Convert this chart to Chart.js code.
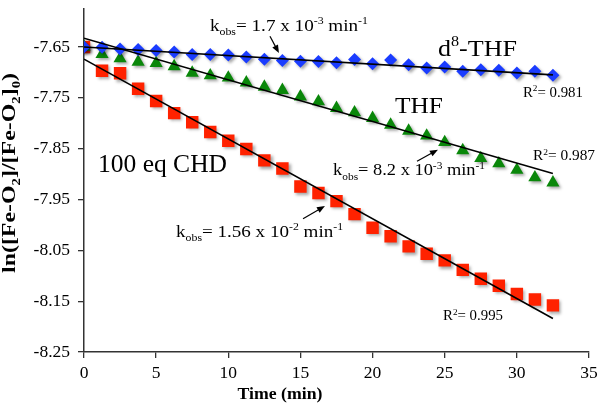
<!DOCTYPE html>
<html><head><meta charset="utf-8">
<script src="https://cdn.jsdelivr.net/npm/chart.js@4.4.1/dist/chart.umd.min.js"></script>
<style>html,body{margin:0;padding:0;background:#fff;}canvas{display:block;}</style>
</head><body>
<canvas id="c" width="600" height="404"></canvas>
<script>
// ---- data ----
const times = [0,1.25,2.5,3.75,5,6.25,7.5,8.75,10,11.25,12.5,13.75,15,16.25,17.5,18.75,20,21.25,22.5,23.75,25,26.25,27.5,28.75,30,31.25,32.5];
const d8thf = [-7.650,-7.6506,-7.654,-7.655,-7.657,-7.660,-7.665,-7.665,-7.666,-7.670,-7.674,-7.6765,-7.6781,-7.6787,-7.6813,-7.6748,-7.6833,-7.6756,-7.6852,-7.6915,-7.6896,-7.6979,-7.6948,-7.6960,-7.7012,-7.6979,-7.7056];
const thf = [-7.650,-7.6645,-7.6728,-7.6793,-7.6818,-7.6882,-7.7011,-7.7063,-7.7107,-7.7203,-7.7286,-7.7351,-7.7478,-7.7574,-7.7703,-7.7790,-7.7901,-7.8034,-7.8151,-7.8247,-7.8376,-7.8536,-7.8690,-7.8793,-7.8920,-7.9068,-7.9170];
const chd = [-7.650,-7.6967,-7.7019,-7.7321,-7.7563,-7.7802,-7.7981,-7.8173,-7.8346,-7.8506,-7.8731,-7.8890,-7.9244,-7.9371,-7.9533,-7.9788,-8.0058,-8.0225,-8.0423,-8.0567,-8.0698,-8.0885,-8.1058,-8.1198,-8.1360,-8.1467,-8.1583];
const fitTimes = [0, 32.5];
const fitD8 = [-7.650, -7.705];
const fitTHF = [-7.633, -7.899];
const fitCHD = [-7.674, -8.184];
const yTicks = [-8.25,-8.15,-8.05,-7.95,-7.85,-7.75,-7.65];
const xTicks = [0,5,10,15,20,25,30,35];

const SERIF = '"Liberation Serif", "Times New Roman", serif';
const pts = (xs, ys) => xs.map((t, i) => ({x: t, y: ys[i]}));

function drawRich(ctx, segs, x, y, fs, opts) {
  opts = opts || {};
  const w = opts.bold ? 'bold ' : '';
  const small = fs * 0.62;
  const fontFor = s => w + ((s.sub || s.sup) ? small : fs) + 'px ' + SERIF;
  let total = 0;
  const widths = segs.map(s => { ctx.font = fontFor(s); const m = ctx.measureText(s.t).width; total += m; return m; });
  const sc = opts.width ? opts.width / total : 1;
  ctx.save();
  ctx.translate(x, y);
  if (opts.rotate) ctx.rotate(opts.rotate);
  ctx.scale(sc, 1);
  ctx.fillStyle = '#000';
  ctx.textBaseline = 'alphabetic';
  ctx.textAlign = 'left';
  let cx = opts.center ? -total / 2 : 0;
  segs.forEach((s, i) => {
    ctx.font = fontFor(s);
    const dy = s.sub ? fs * 0.28 : (s.sup ? -fs * 0.38 : 0);
    ctx.fillText(s.t, cx, dy);
    cx += widths[i];
  });
  ctx.restore();
}

function drawArrow(ctx, x1, y1, x2, y2) {
  const a = Math.atan2(y2 - y1, x2 - x1);
  const L = 8, W = 3.2;
  ctx.save();
  ctx.strokeStyle = '#000'; ctx.fillStyle = '#000'; ctx.lineWidth = 1.2;
  ctx.beginPath(); ctx.moveTo(x1, y1);
  ctx.lineTo(x2 - Math.cos(a) * L * 0.8, y2 - Math.sin(a) * L * 0.8); ctx.stroke();
  ctx.beginPath();
  ctx.moveTo(x2, y2);
  ctx.lineTo(x2 - Math.cos(a) * L - Math.sin(a) * W, y2 - Math.sin(a) * L + Math.cos(a) * W);
  ctx.lineTo(x2 - Math.cos(a) * L + Math.sin(a) * W, y2 - Math.sin(a) * L - Math.cos(a) * W);
  ctx.closePath(); ctx.fill();
  ctx.restore();
}

const shadowPlugin = {
  id: 'shadow',
  beforeDatasetDraw(chart, args) {
    const ds = chart.data.datasets[args.index];
    if (ds.isMarker) {
      const ctx = chart.ctx;
      ctx.save();
      ctx.shadowColor = 'rgba(0,0,0,0.35)';
      ctx.shadowBlur = 3;
      ctx.shadowOffsetX = 2;
      ctx.shadowOffsetY = 2;
    }
  },
  afterDatasetDraw(chart, args) {
    const ds = chart.data.datasets[args.index];
    if (ds.isMarker) chart.ctx.restore();
  }
};

const annoPlugin = {
  id: 'anno',
  afterDraw(chart) {
    const ctx = chart.ctx;
    const X = v => chart.scales.x.getPixelForValue(v);
    const Y = v => chart.scales.y.getPixelForValue(v);
    // k_obs labels
    drawRich(ctx, [{t:'k'},{t:'obs',sub:true},{t:'= 1.7 x 10'},{t:'-3',sup:true},{t:' min'},{t:'-1',sup:true}], X(8.73), Y(-7.618), 17, {width:158});
    drawRich(ctx, [{t:'k'},{t:'obs',sub:true},{t:'= 8.2 x 10'},{t:'-3',sup:true},{t:' min'},{t:'-1',sup:true}], X(17.26), Y(-7.902), 17, {width:152});
    drawRich(ctx, [{t:'k'},{t:'obs',sub:true},{t:'= 1.56 x 10'},{t:'-2',sup:true},{t:' min'},{t:'-1',sup:true}], X(6.38), Y(-8.023), 16.5, {width:167});
    // series labels
    drawRich(ctx, [{t:'d'},{t:'8',sup:true},{t:'-THF'}], X(24.53), Y(-7.667), 24, {width:79});
    drawRich(ctx, [{t:'THF'}], X(21.55), Y(-7.779), 24, {width:48});
    drawRich(ctx, [{t:'100 eq CHD'}], X(0.97), Y(-7.896), 25, {width:129});
    // R^2 labels
    drawRich(ctx, [{t:'R'},{t:'2',sup:true},{t:'= 0.981'}], X(30.42), Y(-7.748), 14, {width:60});
    drawRich(ctx, [{t:'R'},{t:'2',sup:true},{t:'= 0.987'}], X(31.12), Y(-7.873), 14, {width:62});
    drawRich(ctx, [{t:'R'},{t:'2',sup:true},{t:'= 0.995'}], X(24.88), Y(-8.187), 14, {width:60});
    // arrows
    drawArrow(ctx, X(12.89), Y(-7.629), X(13.51), Y(-7.662));
    drawArrow(ctx, X(23.08), Y(-7.875), X(24.53), Y(-7.852));
    drawArrow(ctx, X(15.18), Y(-7.988), X(16.70), Y(-7.963));
    // axis titles
    drawRich(ctx, [{t:'Time (min)'}], 280, 399, 17.5, {bold:true, center:true, width:85});
    drawRich(ctx, [{t:'ln([Fe-O'},{t:'2',sub:true},{t:']/[Fe-O'},{t:'2',sub:true},{t:']'},{t:'0',sub:true},{t:')'}], 15, 173, 19.5, {bold:true, center:true, width:200, rotate:-Math.PI/2});
  }
};

const tickFont = {family: SERIF, size: 17.5};

new Chart(document.getElementById('c'), {
  type: 'scatter',
  data: {
    datasets: [
      {label:'d8 fit', type:'line', data: pts(fitTimes, fitD8), borderColor:'#000', borderWidth:1.6, pointRadius:0, order:0},
      {label:'THF fit', type:'line', data: pts(fitTimes, fitTHF), borderColor:'#000', borderWidth:1.6, pointRadius:0, order:0},
      {label:'CHD fit', type:'line', data: pts(fitTimes, fitCHD), borderColor:'#000', borderWidth:1.6, pointRadius:0, order:0},
      {label:'d8-THF', data: pts(times, d8thf), isMarker:true, pointStyle:'rectRot', pointRadius:6.5, backgroundColor:'#1a3cff', borderColor:'#1a3cff', borderWidth:0, order:1},
      {label:'THF', data: pts(times, thf), isMarker:true, pointStyle:'triangle', pointRadius:7.6, backgroundColor:'#0a870a', borderColor:'#0a870a', borderWidth:0, order:2},
      {label:'100 eq CHD', data: pts(times, chd), isMarker:true, pointStyle:'rect', pointRadius:8.8, backgroundColor:'#ff2200', borderColor:'#ff2200', borderWidth:0, order:3}
    ]
  },
  options: {
    responsive: false,
    animation: false,
    layout: {padding: {left: 0, right: 11, top: 0, bottom: 0}},
    plugins: {legend: {display: false}, tooltip: {enabled: false}},
    scales: {
      x: {
        type: 'linear', min: 0, max: 35,
        afterBuildTicks: s => { s.ticks = xTicks.map(v => ({value: v})); },
        afterFit: s => { s.height = 52; s.paddingLeft = 0; s.paddingRight = 0; },
        grid: {drawOnChartArea: false, drawTicks: true, tickLength: 6, color: '#333', lineWidth: 1.3},
        border: {display: true, color: '#333', width: 1.5},
        ticks: {font: tickFont, color: '#000', padding: 5, maxRotation: 0, autoSkip: false},
        title: {display: false}
      },
      y: {
        type: 'linear', min: -8.25, max: -7.575,
        afterBuildTicks: s => { s.ticks = yTicks.map(v => ({value: v})); },
        afterFit: s => { s.width = 84; s.paddingTop = 0; s.paddingBottom = 0; },
        grid: {drawOnChartArea: false, drawTicks: true, tickLength: 6, color: '#333', lineWidth: 1.3},
        border: {display: true, color: '#333', width: 1.5},
        ticks: {font: tickFont, color: '#000', padding: 8, autoSkip: false, callback: v => v.toFixed(2)},
        title: {display: false}
      }
    }
  },
  plugins: [shadowPlugin, annoPlugin]
});
</script>
</body></html>
